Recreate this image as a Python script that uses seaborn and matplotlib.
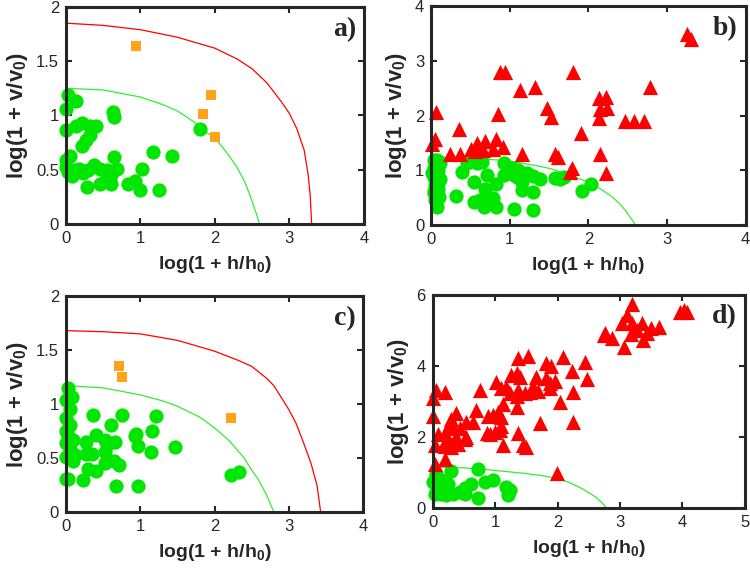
import numpy as np
import pandas as pd
import matplotlib
matplotlib.use("Agg")
import matplotlib.pyplot as plt
import seaborn as sns


# ---- panel a ----
a_green_x = [0.03, 0.13, 0.0, 0.63, 0.65, 0.0, 0.14, 0.22, 0.32, 0.40, 0.32, 0.27, 0.21,
             1.80, 0.05, 0.0, 0.64, 1.17, 1.42, 0.0, 0.03, 0.08, 0.17, 0.23, 0.30, 0.38,
             0.46, 0.55, 0.61, 0.68, 1.02, 0.28, 0.46, 0.61, 0.83, 0.93, 1.0, 1.25, 0.12, 0.55]
a_green_y = [1.19, 1.13, 1.06, 1.03, 0.99, 0.87, 0.90, 0.93, 0.90, 0.90, 0.82, 0.77, 0.72,
             0.88, 0.63, 0.59, 0.62, 0.66, 0.63, 0.53, 0.48, 0.44, 0.51, 0.47, 0.50, 0.54,
             0.51, 0.50, 0.45, 0.51, 0.51, 0.34, 0.37, 0.37, 0.37, 0.40, 0.31, 0.31, 0.50, 0.44]
a_orange_x = [0.94, 1.95, 1.84, 2.0]
a_orange_y = [1.64, 1.19, 1.01, 0.80]

# ---- panel b ----
b_red_x = [3.25, 3.30, 0.88, 0.94, 1.80, 1.13, 1.32, 2.78, 0.06, 0.85, 1.47, 1.52, 2.14, 2.22,
           2.15, 2.24, 2.14, 2.46, 2.58, 2.71, 0.35, 1.90, 0.01, 0.05, 0.58, 0.69, 0.83, 0.50,
           0.56, 0.66, 0.79, 0.91, 0.24, 0.37, 1.15, 1.57, 1.61, 2.15, 1.79, 1.77, 2.22]
b_red_y = [3.50, 3.41, 2.80, 2.80, 2.80, 2.47, 2.52, 2.52, 2.06, 2.04, 2.15, 1.98, 2.32, 2.35,
           2.13, 2.15, 1.96, 1.91, 1.91, 1.91, 1.75, 1.69, 1.48, 1.57, 1.51, 1.54, 1.57, 1.40,
           1.36, 1.37, 1.40, 1.43, 1.30, 1.31, 1.31, 1.30, 1.25, 1.30, 1.04, 0.98, 0.96]
b_green_x = [0.03, 0.07, 0.11, 0.03, 0.09, 0.03, 0.11, 0.05, 0.09, 0.03, 0.05, 0.07, 0.01,
             0.08, 0.04, 0.10, 0.06,
             0.45, 0.39, 0.58, 0.65, 0.54, 0.71, 0.69, 0.82, 0.32, 0.54, 0.62, 0.67, 0.73,
             0.79, 0.82, 0.92, 0.92, 1.03, 1.05, 1.11, 1.15, 1.15, 1.22, 1.30, 1.39, 1.30,
             1.05, 1.30, 1.58, 1.64, 1.69, 1.92, 2.03, 1.09]
b_green_y = [1.19, 1.19, 1.13, 1.04, 1.01, 0.89, 0.85, 0.73, 0.67, 0.58, 0.46, 0.33, 0.95,
             0.78, 0.62, 0.52, 1.10,
             1.13, 0.98, 1.13, 1.16, 0.79, 0.91, 0.67, 0.76, 0.53, 0.43, 0.46, 0.34, 0.43,
             0.49, 0.34, 1.13, 0.91, 1.04, 0.91, 1.01, 0.79, 0.64, 0.95, 0.90, 0.85, 0.61,
             0.30, 0.27, 0.87, 0.85, 0.88, 0.63, 0.76, 0.88]

# ---- panel c ----
c_green_x = [0.03, 0.0, 0.08, 0.05, 0.0, 0.05, 0.0, 0.03, 0.10, 0.0, 0.05, 0.0, 0.10, 0.12,
             0.0, 0.03, 0.37, 0.76, 1.21, 0.60, 1.16, 0.41, 0.27, 0.52, 0.66, 0.55, 0.93,
             0.97, 0.94, 1.47, 1.14, 0.27, 0.35, 0.52, 0.30, 0.41, 0.23, 0.52, 0.64, 0.71,
             0.68, 0.97, 2.22, 2.33]
c_green_y = [1.15, 1.04, 1.07, 0.95, 0.87, 0.81, 0.75, 0.70, 0.67, 0.64, 0.58, 0.51, 0.47,
             0.53, 0.31, 0.31, 0.90, 0.90, 0.89, 0.81, 0.75, 0.71, 0.65, 0.67, 0.65, 0.62,
             0.70, 0.61, 0.72, 0.60, 0.56, 0.54, 0.54, 0.56, 0.40, 0.38, 0.30, 0.45, 0.47,
             0.44, 0.24, 0.24, 0.34, 0.37]
c_orange_x = [0.72, 0.76, 2.22]
c_orange_y = [1.35, 1.25, 0.875]

# ---- panel d ----
d_red_x = [3.19, 3.11, 3.03, 3.20, 3.35, 3.49, 3.62, 3.27, 3.43, 3.17, 3.37, 2.76, 2.87, 3.06,
           2.74, 3.97, 4.08, 4.02,
           1.53, 1.82, 1.90, 2.08, 2.44, 2.23, 2.47, 2.25, 2.04, 2.25, 1.82, 1.66, 1.88, 1.96,
           1.88, 1.61, 1.56, 1.69, 1.72, 1.37, 1.35, 1.40, 1.26, 1.18, 1.10, 1.02, 1.24, 1.37,
           1.48, 1.35, 1.35, 1.13, 0.75, 0.70, 0.54, 0.64, 0.88, 0.97, 1.05, 1.10, 0.87, 0.91,
           0.99, 1.08, 1.10, 1.37, 1.45, 1.50, 1.13, 1.99,
           0.05, 0.0, 0.20, 0.0, 0.30, 0.38, 0.27, 0.08, 0.19, 0.32, 0.43, 0.54, 0.38, 0.27,
           0.40, 0.03, 0.19, 0.30, 0.19, 0.04, 0.21, 0.51]
d_red_y = [5.75, 5.44, 5.20, 5.20, 5.20, 5.06, 5.09, 5.01, 4.92, 4.90, 4.73, 4.92, 4.78, 4.54,
           4.87, 5.53, 5.53, 5.58,
           4.28, 4.07, 3.99, 4.26, 4.12, 3.87, 3.62, 3.27, 2.99, 2.43, 3.65, 3.70, 3.51, 3.58,
           3.37, 3.41, 3.27, 3.30, 2.38, 4.23, 3.79, 3.70, 3.74, 3.41, 3.37, 3.56, 3.23, 3.32,
           3.23, 3.14, 2.85, 2.94, 3.32, 2.76, 2.43, 2.43, 2.59, 2.62, 2.71, 2.57, 2.10, 2.08,
           2.15, 2.21, 2.31, 2.10, 1.77, 1.72, 1.77, 0.99,
           3.32, 3.09, 3.27, 2.59, 2.52, 2.68, 2.38, 2.08, 2.10, 2.24, 2.24, 2.00, 2.00, 1.83,
           1.81, 1.77, 1.74, 1.72, 1.39, 1.25, 1.91, 1.93]
d_green_x = [0.05, 0.0, 0.13, 0.30, 0.72, 0.24, 0.13, 0.05, 0.21, 0.32, 0.43, 0.51, 0.62,
             0.51, 0.72, 0.83, 0.97, 1.18, 1.21, 1.23, 0.21, 0.03]
d_green_y = [0.97, 0.73, 0.78, 1.04, 1.09, 0.69, 0.40, 0.64, 0.55, 0.40, 0.45, 0.55, 0.67,
             0.40, 0.29, 0.73, 0.78, 0.59, 0.36, 0.52, 0.36, 0.40]

# ---- boundary curves ----
ab_green_cx = [0.0, 0.5, 1.0, 1.3, 1.5, 1.7, 1.9, 2.0, 2.1, 2.2, 2.3, 2.4, 2.47, 2.53, 2.57, 2.6]
ab_green_cy = [1.25, 1.235, 1.17, 1.10, 1.04, 0.95, 0.84, 0.79, 0.71, 0.62, 0.52, 0.39, 0.27,
               0.15, 0.07, 0.0]
a_red_cx = [0.0, 0.5, 1.0, 1.5, 2.0, 2.3, 2.5, 2.7, 2.9, 3.0, 3.1, 3.2, 3.25, 3.28, 3.3]
a_red_cy = [1.85, 1.83, 1.79, 1.72, 1.62, 1.52, 1.43, 1.30, 1.12, 1.02, 0.88, 0.68, 0.47,
            0.27, 0.0]
c_green_cx = [0.0, 0.5, 1.0, 1.3, 1.5, 1.8, 2.0, 2.2, 2.3, 2.4, 2.5, 2.6, 2.7, 2.75, 2.8]
c_green_cy = [1.17, 1.15, 1.085, 1.03, 0.98, 0.88, 0.78, 0.66, 0.58, 0.50, 0.39, 0.29, 0.16,
              0.08, 0.0]
c_red_cx = [0.0, 0.5, 1.0, 1.5, 2.0, 2.3, 2.5, 2.7, 2.8, 3.0, 3.1, 3.2, 3.3, 3.38, 3.43]
c_red_cy = [1.68, 1.67, 1.65, 1.59, 1.49, 1.41, 1.35, 1.24, 1.17, 0.95, 0.82, 0.64, 0.45,
            0.25, 0.0]
d_green_cx = [0.0, 0.5, 1.0, 1.5, 1.8, 2.0, 2.2, 2.4, 2.5, 2.6, 2.7, 2.75, 2.78]
d_green_cy = [1.16, 1.13, 1.06, 0.97, 0.90, 0.83, 0.71, 0.54, 0.43, 0.32, 0.17, 0.08, 0.0]

GREEN = "#00e600"
RED = "#ff0000"
ORANGE = "#ffa31a"
LINE_GREEN = "#33ee33"

sns.set_style("ticks")
plt.rcParams["font.family"] = ["Liberation Sans", "DejaVu Sans"]
plt.rcParams["mathtext.fontset"] = "custom"
plt.rcParams["mathtext.rm"] = "Liberation Sans:bold"
plt.rcParams["mathtext.default"] = "rm"


def scatter(ax, x, y, color, marker, size):
    df = pd.DataFrame({"x": x, "y": y})
    sns.scatterplot(data=df, x="x", y="y", ax=ax, color=color, marker=marker,
                    s=size, linewidth=0, zorder=3, clip_on=False)


def curve(ax, x, y, color):
    df = pd.DataFrame({"x": x, "y": y})
    sns.lineplot(data=df, x="x", y="y", ax=ax, color=color, sort=False,
                 linewidth=0.9, zorder=2)


def style_panel(ax, label, xmax, ymax, yticks, yticklabels):
    ax.set_xlim(0, xmax)
    ax.set_ylim(0, ymax)
    ax.set_xticks(range(0, xmax + 1))
    ax.set_yticks(yticks)
    ax.set_yticklabels(yticklabels)
    ax.tick_params(direction="in", length=4, width=1.5, top=True, right=True,
                   labelsize=12, colors="#262626", pad=5)
    for sp in ax.spines.values():
        sp.set_visible(True)
        sp.set_linewidth(2.2)
        sp.set_color("#262626")
        sp.set_zorder(4)
    ax.set_xlabel("log(1 + h/h$_0$)", fontsize=14, fontweight="bold", color="#262626",
                  labelpad=6)
    ax.set_ylabel("log(1 + v/v$_0$)", fontsize=16, fontweight="bold", color="#262626",
                  labelpad=4)
    ax.text(0.975, 0.955, label, transform=ax.transAxes, ha="right", va="top",
            fontsize=20, fontweight="bold", family="Liberation Serif")


fig = plt.figure(figsize=(7.5, 5.76), dpi=100)
ax_a = fig.add_axes([0.088, 0.611, 0.397, 0.377])
ax_b = fig.add_axes([0.575, 0.609, 0.419, 0.380])
ax_c = fig.add_axes([0.088, 0.111, 0.396, 0.375])
ax_d = fig.add_axes([0.577, 0.118, 0.416, 0.370])

half = [0, 0.5, 1, 1.5, 2]
half_lbl = ["0", "0.5", "1", "1.5", "2"]

# a)
curve(ax_a, a_red_cx, a_red_cy, RED)
curve(ax_a, ab_green_cx, ab_green_cy, LINE_GREEN)
scatter(ax_a, a_green_x, a_green_y, GREEN, "o", 105)
scatter(ax_a, a_orange_x, a_orange_y, ORANGE, "s", 52)
style_panel(ax_a, "a)", 4, 2, half, half_lbl)

# b)
curve(ax_b, ab_green_cx, ab_green_cy, LINE_GREEN)
scatter(ax_b, b_green_x, b_green_y, GREEN, "o", 105)
scatter(ax_b, b_red_x, b_red_y, RED, "^", 120)
style_panel(ax_b, "b)", 4, 4, [0, 1, 2, 3, 4], ["0", "1", "2", "3", "4"])

# c)
curve(ax_c, c_red_cx, c_red_cy, RED)
curve(ax_c, c_green_cx, c_green_cy, LINE_GREEN)
scatter(ax_c, c_green_x, c_green_y, GREEN, "o", 105)
scatter(ax_c, c_orange_x, c_orange_y, ORANGE, "s", 52)
style_panel(ax_c, "c)", 4, 2, half, half_lbl)

# d)
curve(ax_d, d_green_cx, d_green_cy, LINE_GREEN)
scatter(ax_d, d_green_x, d_green_y, GREEN, "o", 105)
scatter(ax_d, d_red_x, d_red_y, RED, "^", 120)
style_panel(ax_d, "d)", 5, 6, [0, 2, 4, 6], ["0", "2", "4", "6"])

fig.savefig("out.png", dpi=100)
